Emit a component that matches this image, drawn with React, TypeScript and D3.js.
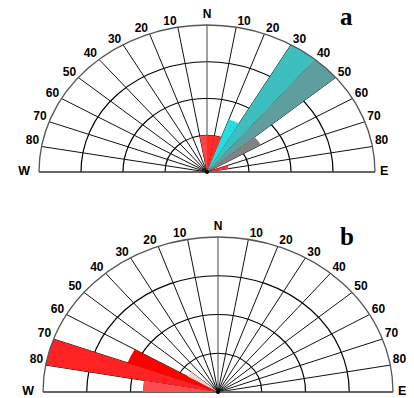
import React from "react";
import * as d3 from "d3";

// orientation bins, 10 degrees wide, angle measured from N (negative = west)
const BIN_WIDTH = 10;

const binStartA = [-10, 0, 10, 20, 30, 40, 50, 70, 80];
const binValueA = [25, 25, 25, 38, 100, 100, 37, 13, 8];
const binColorA = ["#ff4444", "#ff2a2a", "#ff2a2a", "#22dede", "#3dbfbf", "#5e9e9e", "#828282", "#ff3535", "#ff3535"];

const binStartB = [-90, -80, -70, -60, 80];
const binValueB = [43, 100, 55, 20, 6];
const binColorB = ["#ff4d4d", "#ff2222", "#ff0000", "#ffd2d2", "#ff3535"];

const angleTicks = [10, 20, 30, 40, 50, 60, 70, 80];
const rings = [25, 50, 75, 100];

type RoseProps = {
  cx: number;
  cy: number;
  rx: number;
  ry: number;
  starts: number[];
  values: number[];
  colors: string[];
  letter: string;
  lx: number;
  ly: number;
};

const Rose = ({ cx, cy, rx, ry, starts, values, colors, letter, lx, ly }: RoseProps) => {
  const angle = d3.scaleLinear().domain([-90, 90]).range([-Math.PI / 2, Math.PI / 2]);
  const radius = d3.scaleLinear().domain([0, 100]).range([0, rx]);
  const k = ry / rx;

  const wedge = d3.arc<any>();

  // half ring, W -> N -> E
  const ringPath = (r: number) => {
    const p = d3.path();
    p.moveTo(-r, 0);
    p.arc(0, 0, r, Math.PI, 2 * Math.PI);
    return p.toString();
  };

  const rayAngles = [0, ...angleTicks, ...angleTicks.map((d) => -d)];

  const labelFont = { fontFamily: "Liberation Sans, Arial, sans-serif", fontWeight: 700, fontSize: 12 };

  return (
    <g>
      <g transform={`translate(${cx},${cy})`}>
        <g transform={`scale(1,${k})`}>
          {rings.slice(0, -1).map((r) => (
            <path key={r} d={ringPath(radius(r))} fill="none" stroke="#000" strokeWidth={1.2} vectorEffect="non-scaling-stroke" />
          ))}
          {rayAngles.map((a) => {
            const [x, y] = d3.pointRadial(angle(a), radius(100));
            return <line key={a} x1={0} y1={0} x2={x} y2={y} stroke={a === 0 ? "#444" : "#111"} strokeWidth={1} vectorEffect="non-scaling-stroke" />;
          })}
          <line x1={-radius(100)} y1={0} x2={radius(100)} y2={0} stroke="#333" strokeWidth={1.4} vectorEffect="non-scaling-stroke" />
          {starts.map((s, i) => (
            <path
              key={s}
              d={wedge({ innerRadius: 0, outerRadius: radius(values[i]), startAngle: angle(s), endAngle: angle(s + BIN_WIDTH) }) as string}
              fill={colors[i]}
            />
          ))}
          <path d={ringPath(radius(100))} fill="none" stroke="#555" strokeWidth={1.3} vectorEffect="non-scaling-stroke" />
        </g>
        <circle r={2} fill="#000" />
      </g>
      {angleTicks.flatMap((t) =>
        [-1, 1].map((side) => {
          const [x, y] = d3.pointRadial(angle(side * t), radius(100));
          const off = 1 + 1.5 * Math.sin(angle(t));
          return (
            <text
              key={`${t}${side}`}
              x={cx + x + side * off}
              y={cy + y * k - 2}
              textAnchor={side < 0 ? "end" : "start"}
              style={labelFont}
              fill="#000"
            >
              {t}
            </text>
          );
        })
      )}
      <text x={cx} y={cy - ry - 7} textAnchor="middle" style={labelFont} fill="#000">N</text>
      <text x={cx - rx - 9} y={cy + 3} textAnchor="end" style={{ ...labelFont, fontSize: 12.5 }} fill="#000">W</text>
      <text x={cx + rx + 5} y={cy + 3} textAnchor="start" style={{ ...labelFont, fontSize: 12.5 }} fill="#000">E</text>
      <text x={lx} y={ly} style={{ fontFamily: "Liberation Serif, Times New Roman, serif", fontWeight: 700, fontSize: 25 }} fill="#000">
        {letter}
      </text>
    </g>
  );
};

export default function App() {
  return (
    <svg width={414} height={398} style={{ position: "absolute", left: 0, top: 0, background: "#fff" }}>
      <rect width={414} height={398} fill="#fff" />
      <Rose cx={207} cy={172} rx={168} ry={147} starts={binStartA} values={binValueA} colors={binColorA} letter="a" lx={340} ly={25} />
      <Rose cx={218} cy={392} rx={175} ry={155} starts={binStartB} values={binValueB} colors={binColorB} letter="b" lx={340} ly={245} />
    </svg>
  );
}
